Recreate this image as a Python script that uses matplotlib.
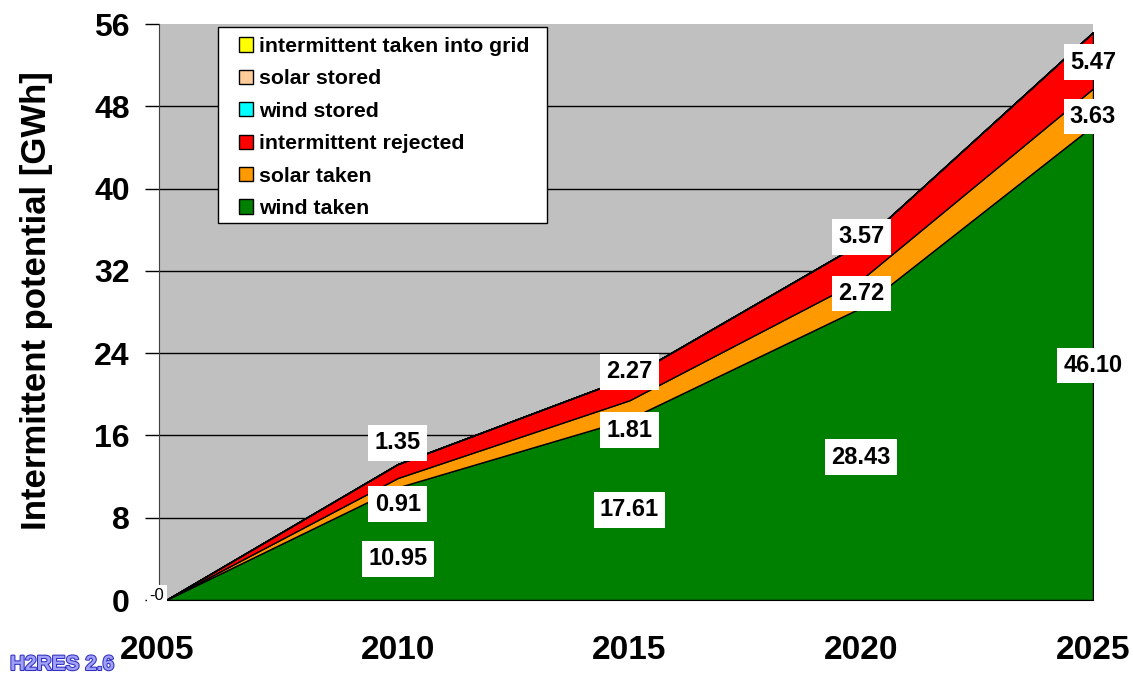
import matplotlib
matplotlib.use('Agg')
import matplotlib.pyplot as plt
import matplotlib.patheffects as pe
import matplotlib.transforms as mtransforms
from matplotlib.patches import Patch, Rectangle

plt.rcParams['font.family'] = ['Liberation Sans', 'DejaVu Sans']

# data
years = [2005, 2010, 2015, 2020, 2025]
wind_taken = [0, 10.95, 17.61, 28.43, 46.10]
solar_taken = [0, 0.91, 1.81, 2.72, 3.63]
rejected = [0, 1.35, 2.27, 3.57, 5.47]
wind_stored = [0, 0, 0, 0, 0]
solar_stored = [0, 0, 0, 0, 0]
into_grid = [0, 0, 0, 0, 0]

y_ticks = [0, 8, 16, 24, 32, 40, 48, 56]

# label heights (where the boxes sit)
wind_lab_y = [4.0, 8.75, 13.9, 22.8]
solar_lab_y = [9.3, 16.5, 29.8, 47.0]
rej_lab_y = [15.3, 22.2, 35.3, 52.3]

fig = plt.figure(figsize=(11.33, 6.76), dpi=100)
ax = fig.add_axes([159/1133, 76/676, 934/1133, 576/676])
ax.set_facecolor('#C0C0C0')

ax.stackplot(years, wind_taken, solar_taken, rejected, wind_stored, solar_stored, into_grid,
             colors=['#008000', '#FF9900', '#FF0000', '#00FFFF', '#FFCC99', '#FFFF00'],
             edgecolor='black', linewidth=1, zorder=2)

ax.set_xlim(2004.85, 2025)
ax.set_ylim(0, 56)
ax.set_yticks(y_ticks)
ax.set_xticks(years)
ax.set_yticklabels([str(t) for t in y_ticks], fontsize=23, fontweight='bold')
ax.set_xticklabels([str(y) for y in years], fontsize=24, fontweight='bold')
ax.tick_params(axis='y', length=10, width=1, pad=11, direction='out')
ax.tick_params(axis='x', length=0, pad=25)

# first year label sits a bit left, under the axis corner
lab0 = ax.get_xticklabels()[0]
lab0.set_transform(lab0.get_transform() + mtransforms.ScaledTranslation(-6/72, 0, fig.dpi_scale_trans))

ax.yaxis.grid(True, color='black', linewidth=1, zorder=1)
ax.set_axisbelow(True)
ax.get_ygridlines()[-1].set_visible(False)
for s in ['top', 'right']:
    ax.spines[s].set_visible(False)
ax.spines['left'].set_color('#404040')

ax.set_ylabel('Intermittent potential [GWh]', fontsize=25, fontweight='bold')
ax.yaxis.set_label_coords(-0.1135, 0.52)

# data labels
box = dict(boxstyle='square,pad=0.27', facecolor='white', edgecolor='none')
for i in range(1, len(years)):
    for vals, ly in [(wind_taken, wind_lab_y), (solar_taken, solar_lab_y), (rejected, rej_lab_y)]:
        ax.text(years[i], ly[i - 1], '%.2f' % vals[i], fontsize=17, fontweight='bold',
                ha='center', va='center', bbox=box, zorder=5, clip_on=False)
ax.text(2004.8, 0.45, '-0', fontsize=12, ha='center', va='center',
        bbox=dict(boxstyle='square,pad=0.15', facecolor='white', edgecolor='none'), zorder=5)

# legend
ax.add_patch(Rectangle((0.0632, 0.6545), 0.3522, 0.3403, transform=ax.transAxes,
                       facecolor='white', edgecolor='black', linewidth=1, zorder=6))
handles = [Patch(facecolor=c, edgecolor='black', linewidth=1) for c in
           ['#FFFF00', '#FFCC99', '#00FFFF', '#FF0000', '#FF9900', '#008000']]
labels = ['intermittent taken into grid', 'solar stored', 'wind stored',
          'intermittent rejected', 'solar taken', 'wind taken']
leg = ax.legend(handles, labels, loc='upper left', bbox_to_anchor=(0.0857, 0.9775),
                frameon=False, borderpad=0, borderaxespad=0, handlelength=0.66,
                handleheight=0.66, handletextpad=0.28, labelspacing=0.63,
                prop={'size': 15.3, 'weight': 'bold'})
leg.set_zorder(7)

# logo
fig.text(10/1133, 6/676, 'H2RES 2.6', fontsize=15, fontweight='bold',
         family=['Liberation Sans Narrow', 'Liberation Sans'], color='#A0A0F8',
         path_effects=[pe.withStroke(linewidth=1.5, foreground='#3030C0')])

fig.savefig('out.png', dpi=100)
